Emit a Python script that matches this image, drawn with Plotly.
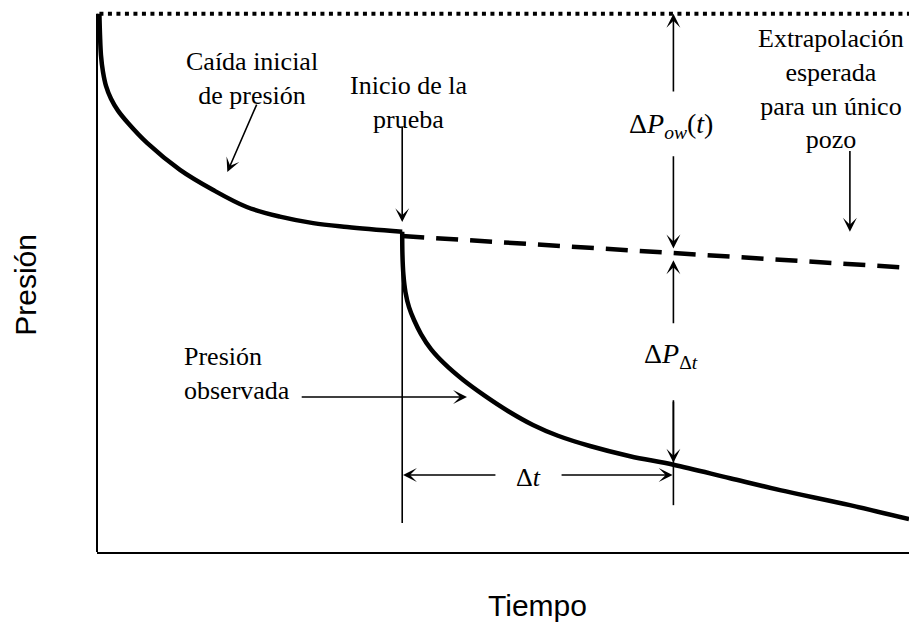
import plotly.graph_objects as go

# --- curve data (Tiempo, Presión) in arbitrary units ---
caida_t = [0.0, 0.07, 0.19, 0.44, 0.81, 1.43, 2.29, 3.53, 5.88, 9.95, 14.0, 18.2, 22.3, 26.4, 30.6, 37.4]
caida_p = [100.0, 96.1, 92.3, 89.2, 86.6, 84.2, 82.0, 79.7, 76.0, 71.0, 67.3, 64.1, 62.3, 61.1, 60.4, 59.5]

obs_t = [37.4, 37.43, 37.55, 37.8, 38.24, 38.86, 39.72, 40.95, 42.68, 44.9, 47.62, 50.46,
         53.55, 56.64, 60.59, 65.54, 70.9, 77.89, 84.07, 92.7, 100.0]
obs_p = [59.5, 55.2, 51.5, 48.3, 45.5, 43.1, 40.5, 37.7, 34.9, 32.0, 29.0, 26.2,
         23.6, 21.6, 19.7, 17.8, 16.2, 13.7, 11.5, 8.7, 6.1]

extrap_t = [37.4, 70.9, 100.0]
extrap_p = [58.7, 55.6, 52.8]

inicial_t = [0.0, 100.0]
inicial_p = [100.0, 100.0]

# event times
t_inicio = 37.4
t_obs = 70.9

SERIF = "Liberation Serif, Times New Roman, serif"
SANS = "Liberation Sans, Arial, sans-serif"

fig = go.Figure()

fig.add_trace(go.Scatter(x=inicial_t, y=inicial_p, mode="lines",
                         line=dict(color="black", width=4, dash="4px,4.5px")))
fig.add_trace(go.Scatter(x=caida_t, y=caida_p, mode="lines",
                         line=dict(color="black", width=4.5, shape="spline", smoothing=1.0)))
fig.add_trace(go.Scatter(x=obs_t, y=obs_p, mode="lines",
                         line=dict(color="black", width=4.5, shape="spline", smoothing=1.0)))
fig.add_trace(go.Scatter(x=extrap_t, y=extrap_p, mode="lines",
                         line=dict(color="black", width=4.5, dash="22px,12px")))

# thin guide lines
fig.add_trace(go.Scatter(x=[t_inicio, t_inicio], y=[59.5, 5.4], mode="lines",
                         line=dict(color="black", width=1.6)))
fig.add_trace(go.Scatter(x=[t_obs, t_obs], y=[28.2, 8.7], mode="lines",
                         line=dict(color="black", width=1.6)))


def arrow(x0, y0, x1, y1):
    fig.add_annotation(x=x1, y=y1, ax=x0, ay=y0, xref="x", yref="y",
                       axref="x", ayref="y", text="", showarrow=True,
                       arrowhead=3, arrowsize=1.45, arrowwidth=1.6,
                       arrowcolor="black", standoff=0, startstandoff=0,
                       font=dict(size=1))


def label(x, y, text, size=26, xanchor="center", align="center", family=SERIF):
    fig.add_annotation(x=x, y=y, xref="x", yref="y", text=text, showarrow=False,
                       xanchor=xanchor, yanchor="middle", align=align,
                       font=dict(family=family, size=size, color="black"))


# Caída inicial de presión
label(18.9, 87.9, "Caída inicial<br>de presión")
arrow(19.5, 83.4, 15.8, 70.6)

# Inicio de la prueba
label(38.2, 83.6, "Inicio de la<br>prueba")
arrow(t_inicio, 79.3, t_inicio, 61.3)

# ΔP_ow(t)
label(70.6, 79.2, "Δ<i>P</i><sub><i>ow</i></sub>(<i>t</i>)", size=28)
arrow(t_obs, 85.3, t_obs, 100.0)
arrow(t_obs, 73.8, t_obs, 56.4)

# ΔP_Δt
label(70.6, 36.6, "Δ<i>P</i><sub>Δ<i>t</i></sub>", size=28)
arrow(t_obs, 42.2, t_obs, 54.2)
arrow(t_obs, 28.2, t_obs, 16.6)

# Δt
label(53.0, 13.9, "Δ<i>t</i>", size=26)
arrow(49.1, 14.3, t_inicio + 0.1, 14.3)
arrow(56.9, 14.3, t_obs - 0.1, 14.3)

# Presión observada
label(10.2, 33.1, "Presión<br>observada", xanchor="left", align="left")
arrow(24.8, 28.8, 45.4, 28.8)

# Extrapolación esperada
label(90.4, 86.0, "Extrapolación<br>esperada<br>para un único<br>pozo")
arrow(92.7, 74.8, 92.7, 59.5)

# axis titles
fig.add_annotation(x=0.543, y=-0.097, xref="paper", yref="paper", text="Tiempo",
                   showarrow=False, xanchor="center", yanchor="middle",
                   font=dict(family=SANS, size=30, color="black"))
fig.add_annotation(x=-0.088, y=0.486, xref="paper", yref="paper", text="Presión",
                   showarrow=False, textangle=-90, xanchor="center", yanchor="middle",
                   font=dict(family=SANS, size=30, color="black"))

# left axis line (up to the initial pressure level)
fig.add_shape(type="line", xref="paper", yref="y", x0=0, x1=0, y0=0, y1=100,
              line=dict(color="black", width=2))

fig.update_xaxes(range=[-0.3, 100], showgrid=False, zeroline=False,
                 showticklabels=False, ticks="", showline=True,
                 linecolor="black", linewidth=2)
fig.update_yaxes(range=[0, 102], showgrid=False, zeroline=False,
                 showticklabels=False, ticks="", showline=False)

fig.update_layout(width=909, height=628, showlegend=False,
                  plot_bgcolor="white", paper_bgcolor="white",
                  margin=dict(l=97, r=0, t=3, b=76))

fig.write_html("out.html")
